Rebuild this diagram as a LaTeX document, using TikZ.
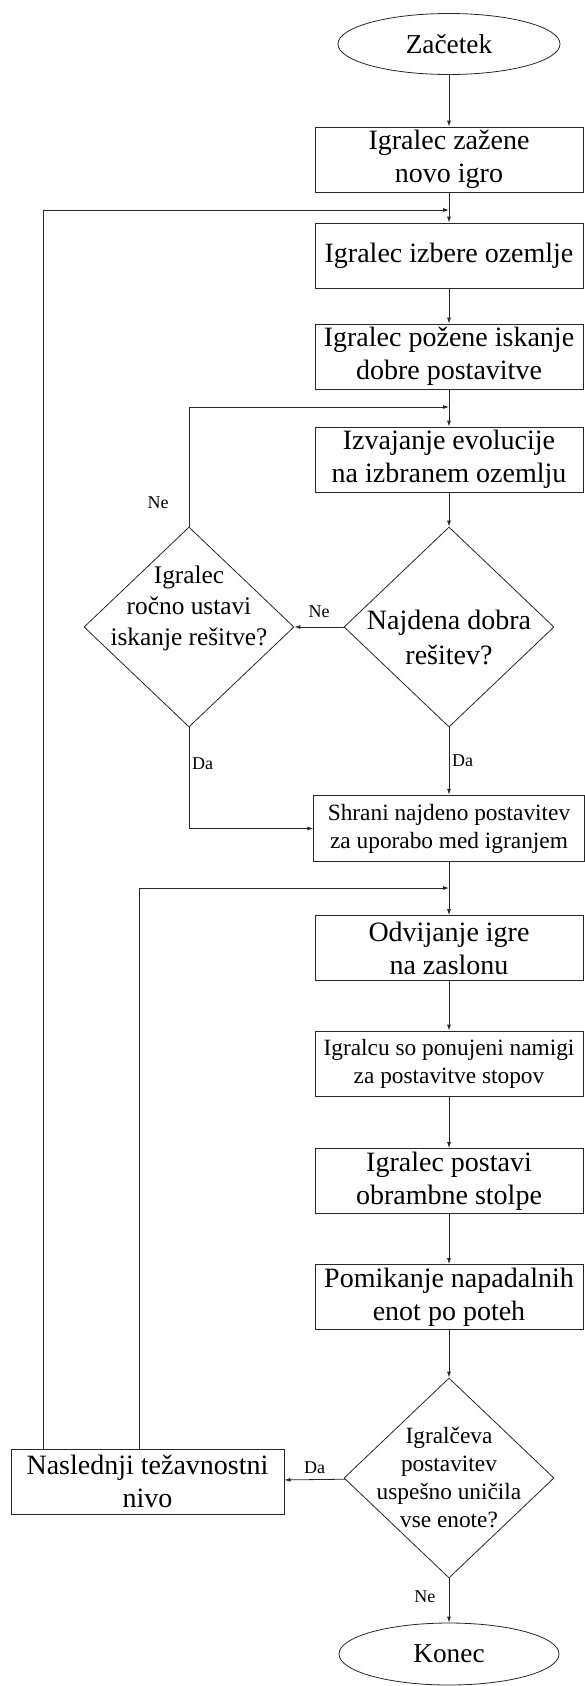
\documentclass[tikz,border=0pt]{standalone}
\usepackage{fontspec}
\setmainfont{Liberation Serif}
\usetikzlibrary{shapes.geometric,arrows.meta,calc}
\begin{document}
\begin{tikzpicture}[x=0.75pt,y=-0.75pt,
  box/.style={draw=black!85,line width=0.6pt,rectangle,minimum width=201pt,minimum height=48.75pt,align=center,inner sep=0pt,font=\fontsize{21}{24.75}\selectfont},
  boxs/.style={box,font=\fontsize{17.5}{21}\selectfont},
  term/.style={draw=black!85,line width=0.6pt,ellipse,minimum width=166.5pt,minimum height=45.75pt,inner sep=0pt,font=\fontsize{20.5}{24}\selectfont},
  dec/.style={draw=black!85,line width=0.6pt,diamond,minimum width=157.5pt,minimum height=150pt,inner sep=0pt},
  dectext/.style={align=center,inner sep=0pt},
  lbl/.style={font=\fontsize{13.5}{16}\selectfont,inner sep=2pt},
  arr/.style={draw=black!85,line width=0.6pt,-{Latex[length=4.5pt,width=3pt]}},
  conn/.style={draw=black!85,line width=0.6pt}]
  \useasboundingbox (0,0) rectangle (585,1686);
  \node[term] (zacetek) at (449,44) {Začetek};
  \node[box] (nova) at (449,159.5) {Igralec zažene\\novo igro};
  \node[box] (ozemlje) at (449,255.5) {Igralec izbere ozemlje};
  \node[box] (iskanje) at (449,356.5) {Igralec požene iskanje\\dobre postavitve};
  \node[box] (evolucija) at (449,459.5) {Izvajanje evolucije\\na izbranem ozemlju};
  \node[dec,label={[dectext,yshift=-8pt,font=\fontsize{21}{26}\selectfont]center:{Najdena dobra\\rešitev?}}] (najdena) at (449,627) {};
  \node[dec,label={[dectext,yshift=14pt,font=\fontsize{19}{23}\selectfont]center:{Igralec\\ročno ustavi\\iskanje rešitve?}}] (rocno) at (189,627) {};
  \node[boxs,minimum width=203pt,minimum height=50pt] (shrani) at (449,828.5) {Shrani najdeno postavitev\\za uporabo med igranjem};
  \node[box] (odvijanje) at (449,948) {Odvijanje igre\\na zaslonu};
  \node[boxs] (namigi) at (449,1063.5) {Igralcu so ponujeni namigi\\za postavitve stopov};
  \node[box] (stolpi) at (449,1181) {Igralec postavi\\obrambne stolpe};
  \node[box] (pomikanje) at (449,1297) {Pomikanje napadalnih\\enot po poteh};
  \node[dec,label={[dectext,font=\fontsize{17.5}{21}\selectfont]center:{Igralčeva\\postavitev\\uspešno uničila\\vse enote?}}] (unicila) at (449,1478) {};
  \node[box,minimum width=204.75pt] (naslednji) at (147.5,1481.5) {Naslednji težavnostni\\nivo};
  \node[term,minimum width=165pt,minimum height=46.5pt] (konec) at (449,1654) {Konec};
  \coordinate (v1) at (449,210);
  \coordinate (v2) at (449,407);
  \coordinate (v3) at (449,888);
  \draw[arr] (zacetek) -- (nova);
  \draw[arr] (nova) -- (ozemlje);
  \draw[arr] (ozemlje) -- (iskanje);
  \draw[arr] (iskanje) -- (evolucija);
  \draw[arr] (evolucija) -- (najdena);
  \draw[arr] (najdena) -- node[lbl,above=5pt] {Ne} (rocno);
  \draw[arr] (najdena) -- node[lbl,right] {Da} (shrani);
  \draw[arr] (rocno.north) |- node[lbl,left=13pt,pos=0.1] {Ne} (v2);
  \draw[arr] (rocno.south) |- node[lbl,right,pos=0.18] {Da} (shrani.west);
  \draw[arr] (shrani) -- (odvijanje);
  \draw[arr] (odvijanje) -- (namigi);
  \draw[arr] (namigi) -- (stolpi);
  \draw[arr] (stolpi) -- (pomikanje);
  \draw[arr] (pomikanje) -- (unicila);
  \draw[arr] (unicila) -- node[lbl,above=2pt] {Da} (naslednji);
  \draw[arr] (unicila) -- node[lbl,left=8pt,pos=0.42] {Ne} (konec);
  \draw[arr] ($(naslednji.north west)+(33,0)$) |- (v1);
  \draw[arr] ($(naslednji.north west)+(129,0)$) |- (v3);
\end{tikzpicture}
\end{document}
